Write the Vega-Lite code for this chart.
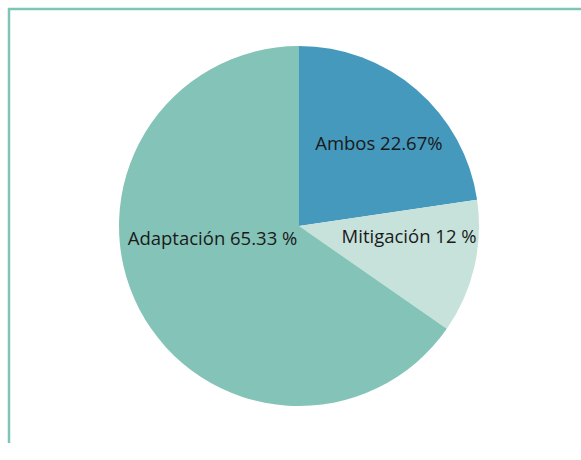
{
  "$schema": "https://vega.github.io/schema/vega-lite/v6.json",
  "autosize": {"type": "none"},
  "width": 580,
  "height": 434,
  "padding": {"left": 9, "top": 9, "right": 0, "bottom": 0},
  "background": "white",
  "view": {"stroke": "#7fc5b7", "strokeWidth": 2.5, "strokeDash": [1014, 580, 434]},
  "data": {
    "values": [
      {"categoria": "Ambos", "value": 22.67, "order": 1, "etiqueta": "Ambos 22.67%"},
      {"categoria": "Mitigación", "value": 12, "order": 2, "etiqueta": "Mitigación 12 %"},
      {"categoria": "Adaptación", "value": 65.33, "order": 3, "etiqueta": "Adaptación 65.33 %"}
    ]
  },
  "transform": [
    {"stack": "value", "groupby": [], "sort": [{"field": "order"}], "as": ["v0", "v1"]},
    {"calculate": "(datum.v0 + datum.v1) / 2", "as": "mid"}
  ],
  "layer": [
    {
      "mark": {"type": "arc", "outerRadius": 180},
      "encoding": {
        "theta": {"field": "v0", "type": "quantitative", "scale": {"domain": [0, 100]}},
        "theta2": {"field": "v1"},
        "color": {
          "field": "categoria",
          "type": "nominal",
          "scale": {"domain": ["Ambos", "Mitigación", "Adaptación"], "range": ["#4499bd", "#c6e2da", "#84c4b8"]},
          "legend": null
        }
      }
    },
    {
      "transform": [{"filter": "datum.categoria === 'Ambos'"}],
      "mark": {"type": "text", "radius": 110, "dx": 8, "dy": 1, "fontSize": 18.5, "font": "Open Sans", "color": "#1a1a1a", "baseline": "middle", "align": "center"},
      "encoding": {
        "theta": {"field": "mid", "type": "quantitative", "scale": {"domain": [0, 100]}},
        "text": {"field": "etiqueta"}
      }
    },
    {
      "transform": [{"filter": "datum.categoria === 'Mitigación'"}],
      "mark": {"type": "text", "radius": 110, "dx": 3, "dy": -14, "fontSize": 18.5, "font": "Open Sans", "color": "#1a1a1a", "baseline": "middle", "align": "center"},
      "encoding": {
        "theta": {"field": "mid", "type": "quantitative", "scale": {"domain": [0, 100]}},
        "text": {"field": "etiqueta"}
      }
    },
    {
      "transform": [{"filter": "datum.categoria === 'Adaptación'"}],
      "mark": {"type": "text", "radius": 110, "dx": 11, "dy": -38, "fontSize": 18.5, "font": "Open Sans", "color": "#1a1a1a", "baseline": "middle", "align": "center"},
      "encoding": {
        "theta": {"field": "mid", "type": "quantitative", "scale": {"domain": [0, 100]}},
        "text": {"field": "etiqueta"}
      }
    }
  ]
}
